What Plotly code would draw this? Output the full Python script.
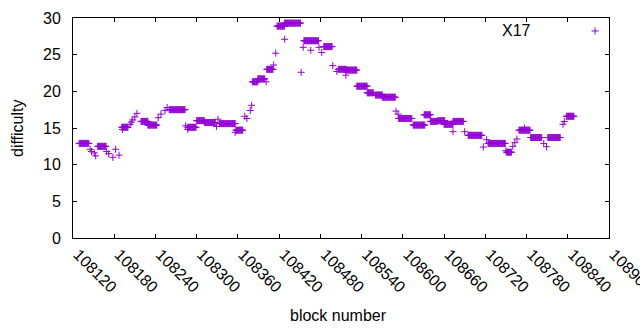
import plotly.graph_objects as go

# ---- data: runs of constant difficulty per block range ----
run_start = [108129, 108156, 108191, 108219, 108229, 108260, 108287, 108300, 108311,
             108333, 108357, 108381, 108389, 108402, 108417, 108428, 108456, 108466,
             108485, 108506, 108517, 108533, 108548, 108560, 108570, 108594, 108615,
             108631, 108640, 108651, 108660, 108673, 108695, 108724, 108751, 108769,
             108786, 108811, 108838]
run_end = [108143, 108168, 108200, 108229, 108242, 108283, 108299, 108311, 108327,
           108356, 108367, 108389, 108399, 108411, 108428, 108451, 108465, 108477,
           108497, 108517, 108533, 108548, 108557, 108570, 108589, 108613, 108632,
           108640, 108650, 108661, 108673, 108688, 108715, 108749, 108758, 108785,
           108802, 108829, 108849]
run_value = [12.9, 12.5, 15.1, 15.9, 15.4, 17.5, 15.1, 16.0, 15.75,
             15.6, 14.7, 21.3, 21.7, 23.0, 28.9, 29.3, 26.9, 26.9,
             26.1, 23.0, 22.9, 20.7, 19.8, 19.5, 19.2, 16.3, 15.4,
             16.8, 15.9, 16.0, 15.5, 15.9, 14.0, 12.9, 11.7, 14.7,
             13.7, 13.7, 16.6]

single_block = [108145, 108147, 108151, 108153, 108169, 108172, 108178, 108182, 108187,
                108192, 108203, 108205, 108207, 108210, 108213, 108244, 108248, 108254,
                108257, 108284, 108287, 108329, 108331, 108356, 108370, 108373, 108378,
                108380, 108401, 108412, 108415, 108428, 108452, 108455, 108466, 108478,
                108482, 108498, 108504, 108517, 108590, 108593, 108673, 108690, 108717,
                108722, 108750, 108760, 108763, 108766, 108777, 108805, 108809, 108833,
                108835]
single_value = [12.1, 11.8, 11.6, 11.2, 11.8, 11.5, 11.0, 12.1, 11.3,
                14.8, 15.5, 15.8, 16.1, 16.5, 17.0, 16.4, 16.9, 17.4,
                17.8, 15.3, 14.8, 15.2, 16.2, 14.4, 16.6, 16.3, 17.4,
                18.1, 21.3, 23.6, 25.2, 27.1, 22.6, 26.0, 25.6, 26.0,
                25.3, 23.5, 22.7, 22.2, 17.3, 16.9, 14.5, 14.5, 12.4,
                13.4, 11.9, 12.5, 13.0, 13.5, 15.0, 12.9, 12.45, 15.5,
                15.9]

x_tick_values = list(range(108120, 108901, 60))
x_tick_labels = [str(v) for v in x_tick_values]
y_tick_values = [0, 5, 10, 15, 20, 25, 30]

series_name = "X17"
color = "#9400D3"

# build the point list from the runs and single points
xs, ys = [], []
for s, e, v in zip(run_start, run_end, run_value):
    for b in range(s, e + 1):
        xs.append(b)
        ys.append(v)
xs += single_block
ys += single_value

font = dict(family="Liberation Sans, Arial, sans-serif", size=16, color="black")

fig = go.Figure()
fig.add_trace(go.Scatter(
    x=xs, y=ys, mode="markers", name=series_name, showlegend=False,
    marker=dict(symbol="cross-thin", size=5, color=color,
                line=dict(color=color, width=1)),
    hoverinfo="x+y",
))
# legend sample point (on an overlay axis in [0,1])
fig.add_trace(go.Scatter(
    x=[0.974], y=[0.941], xaxis="x2", yaxis="y2", mode="markers", showlegend=False,
    marker=dict(symbol="cross-thin", size=5, color=color,
                line=dict(color=color, width=1)),
    hoverinfo="skip",
))

axis_common = dict(showline=True, linecolor="black", linewidth=1, mirror="ticks",
                   ticks="inside", ticklen=4, tickcolor="black", tickwidth=1,
                   showgrid=False, zeroline=False, tickfont=font, automargin=False)

fig.update_layout(
    width=640, height=330,
    margin=dict(l=73, r=31, t=18, b=92),
    paper_bgcolor="white", plot_bgcolor="white",
    font=font,
    xaxis=dict(range=[108120, 108900], tickmode="array", tickvals=x_tick_values,
               ticktext=x_tick_labels, tickangle=45, ticklabelstandoff=0,
               ticklabelshift=5, ticklabeloverflow="allow", **axis_common),
    yaxis=dict(range=[0, 30], tickmode="array", tickvals=y_tick_values,
               ticklabelstandoff=8, **axis_common),
    xaxis2=dict(overlaying="x", range=[0, 1], visible=False, fixedrange=True),
    yaxis2=dict(overlaying="y", range=[0, 1], visible=False, fixedrange=True),
    annotations=[
        dict(text="difficulty", xref="paper", yref="paper", x=-0.1045, y=0.5,
             textangle=-90, showarrow=False, font=font, xanchor="center", yanchor="middle"),
        dict(text="block number", xref="paper", yref="paper", x=0.496, y=-0.35,
             showarrow=False, font=font, xanchor="center", yanchor="middle"),
        dict(text=series_name, xref="paper", yref="paper", x=0.858, y=0.941,
             showarrow=False, font=font, xanchor="right", yanchor="middle"),
    ],
)

fig.write_html("out.html", post_script="document.body.style.margin='0';",
               config={"displayModeBar": False})
